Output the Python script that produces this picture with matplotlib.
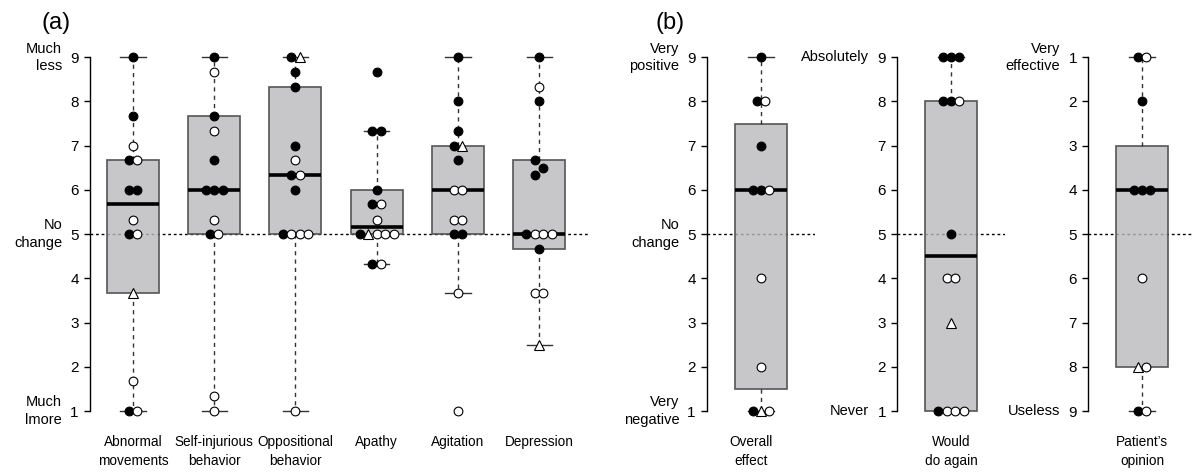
import matplotlib
matplotlib.use('Agg')
import matplotlib.pyplot as plt

plt.rcParams['font.family'] = ['Liberation Sans', 'DejaVu Sans']
plt.rcParams['font.size'] = 10.5

# ---- panel (a): behaviour ratings, one list per category
cats_a = ['Abnormal\nmovements', 'Self-injurious\nbehavior', 'Oppositional\nbehavior',
          'Apathy', 'Agitation', 'Depression']
filled_a = [
    [9, 7.67, 6.67, 6, 6, 5, 1],
    [9, 7.67, 6.67, 6, 6, 6, 5],
    [9, 8.67, 8.33, 7, 6.33, 6, 5],
    [8.67, 7.33, 7.33, 6, 5.67, 5, 4.33],
    [9, 8, 7.33, 7, 6.67, 5, 5],
    [9, 8, 6.67, 6.5, 6.33, 5, 4.67],
]
open_a = [
    [7, 6.67, 5.33, 5, 1.67, 1],
    [8.67, 7.33, 5.33, 5, 1.33, 1],
    [6.67, 6.33, 5, 5, 5, 1],
    [5.67, 5.33, 5, 5, 5, 4.33],
    [6, 6, 5.33, 5.33, 3.67, 1],
    [8.33, 5, 5, 5, 3.67, 3.67],
]
tri_a = [[3.67], [], [9], [5], [7], [2.5]]
q1_a = [3.67, 5, 5, 5, 5, 4.67]
med_a = [5.67, 6, 6.33, 5.17, 6, 5]
q3_a = [6.67, 7.67, 8.33, 6, 7, 6.67]
lo_a = [1, 1, 1, 4.33, 3.67, 2.5]
hi_a = [9, 9, 9, 7.33, 9, 9]
side_a = [(9, 'Much\nless'), (5, 'No\nchange'), (1, 'Much\nlmore')]

# ---- panel (b): three single-box scales
cats_b = ['Overall\neffect', 'Would\ndo again', 'Patient\u2019s\nopinion']
filled_b = [[9, 8, 7, 6, 6, 1], [9, 9, 9, 8, 8, 5, 1], [1, 2, 4, 4, 4, 9]]
open_b = [[8, 6, 4, 2, 1], [8, 4, 4, 1, 1, 1], [1, 6, 8, 9]]
tri_b = [[1], [3], [8]]
q1_b = [1.5, 1, 3]
med_b = [6, 4.5, 4]
q3_b = [7.5, 8, 8]
lo_b = [1, 1, 1]
hi_b = [9, 9, 9]
side_b = [
    [(9, 'Very\npositive'), (5, 'No\nchange'), (1, 'Very\nnegative')],
    [(9, 'Absolutely'), (1, 'Never')],
    [(1, 'Very\neffective'), (9, 'Useless')],
]
inverted_b = [False, False, True]

D = 0.104  # horizontal step between dots in a row


def spread(filled, tri, opn, d=D):
    """dots at the same value go side by side: filled, triangle, open"""
    rows = {}
    for v, k in [(v, 'f') for v in filled] + [(v, 't') for v in tri] + [(v, 'o') for v in opn]:
        rows.setdefault(round(v, 2), []).append(k)
    levels = sorted(rows, reverse=True)
    # single dots lying too close together get a zigzag
    shift = {}
    runs, cur = [], []
    for lv in levels:
        if len(rows[lv]) == 1 and cur and cur[-1] - lv < 0.2:
            cur.append(lv)
        else:
            runs.append(cur)
            cur = [lv] if len(rows[lv]) == 1 else []
    runs.append(cur)
    for run in runs:
        if len(run) > 1:
            for i, lv in enumerate(run):
                shift[lv] = (-0.5 if i % 2 == 0 else 0.5) * d
    out = []
    for lv in levels:
        ks = rows[lv]
        n = len(ks)
        for i, k in enumerate(ks):
            out.append((shift.get(lv, 0) + (i - (n - 1) / 2) * d, lv, k))
    return out


def draw_boxes(ax, pos, q1, med, q3, lo, hi):
    stats = [dict(q1=a, med=m, q3=b, whislo=l, whishi=h, fliers=[])
             for a, m, b, l, h in zip(q1, med, q3, lo, hi)]
    ax.bxp(stats, positions=pos, widths=0.64, capwidths=0.31, patch_artist=True,
           showfliers=False, manage_ticks=False,
           boxprops=dict(facecolor=(0.73, 0.73, 0.74, 0.8), edgecolor='#555555', linewidth=1.2),
           whiskerprops=dict(color='#333333', linewidth=1, linestyle=(0, (3, 3))),
           capprops=dict(color='#333333', linewidth=1),
           medianprops=dict(color='black', linewidth=2.6, solid_capstyle='butt'))


def draw_points(ax, x0, filled, tri, opn):
    style = {'f': dict(marker='o', mfc='black', ms=6.3),
             'o': dict(marker='o', mfc='white', ms=6.3),
             't': dict(marker='^', mfc='white', ms=7)}
    for dx, v, k in spread(filled, tri, opn):
        ax.plot(x0 + dx, v, ls='none', mec='black', mew=0.8, zorder=4, **style[k])


def style_axis(ax, labels, pos, sides, inverted=False):
    ax.axhline(5, color='black', lw=1, ls=(0, (2, 2)), zorder=1)
    for s in ['top', 'right', 'bottom']:
        ax.spines[s].set_visible(False)
    ax.spines['left'].set_bounds(1, 9)
    ax.spines['left'].set_linewidth(1)
    ax.set_yticks(range(1, 10))
    ax.set_ylim((9.3, 0.7) if inverted else (0.7, 9.3))
    ax.tick_params(axis='y', length=4, width=1, pad=4, labelsize=11)
    ax.set_xticks(pos)
    ax.set_xticklabels(labels, linespacing=1.4)
    ax.tick_params(axis='x', length=0, pad=8, labelsize=9.8)
    for v, t in sides:
        ax.annotate(t, xy=(0, v), xycoords=('axes fraction', 'data'),
                    xytext=(-20, 0), textcoords='offset points',
                    ha='right', va='center', fontsize=10.5, linespacing=1.3)


fig = plt.figure(figsize=(11.93, 4.72), dpi=100)
bot, h = 0.101, 0.806

ax = fig.add_axes([0.0754, bot, 0.4174, h])
pos_a = list(range(1, len(cats_a) + 1))
draw_boxes(ax, pos_a, q1_a, med_a, q3_a, lo_a, hi_a)
for i, p in enumerate(pos_a):
    draw_points(ax, p, filled_a[i], tri_a[i], open_a[i])
ax.set_xlim(0.47, 6.6)
style_axis(ax, cats_a, pos_a, side_a)

lefts_b = [0.5926, 0.7519, 0.9120]
label_shift = [-0.12, 0, 0]
for i in range(3):
    ax = fig.add_axes([lefts_b[i], bot, 0.0905, h])
    draw_boxes(ax, [1], [q1_b[i]], [med_b[i]], [q3_b[i]], [lo_b[i]], [hi_b[i]])
    draw_points(ax, 1, filled_b[i], tri_b[i], open_b[i])
    ax.set_xlim(0.335, 1.665)
    style_axis(ax, [cats_b[i]], [1 + label_shift[i]], side_b[i], inverted_b[i])

fig.text(56 / 1193, 1 - 23 / 472, '(a)', fontsize=17, ha='center', va='center')
fig.text(670 / 1193, 1 - 23 / 472, '(b)', fontsize=17, ha='center', va='center')

fig.savefig('out.png', dpi=100)
